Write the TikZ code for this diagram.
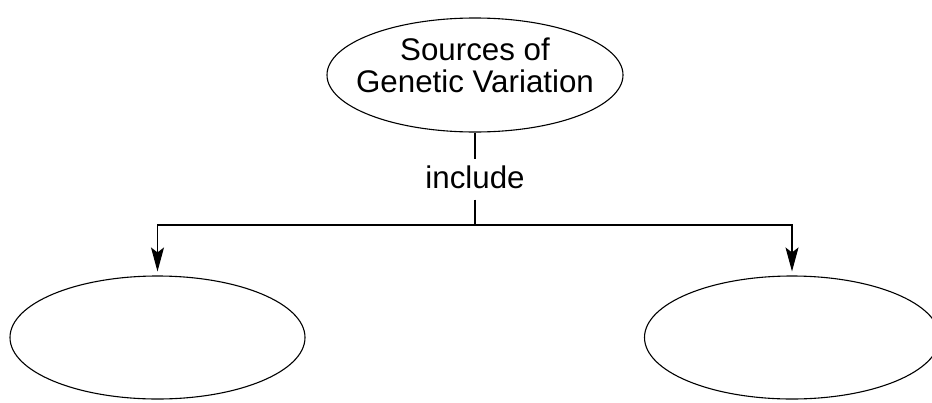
\documentclass[tikz,border=0pt]{standalone}
\usepackage{fontspec}
\setmainfont{Liberation Sans}
\usetikzlibrary{shapes.geometric,arrows.meta}
\begin{document}
\begin{tikzpicture}[x=1pt,y=-1pt,
  oval/.style={draw, ellipse, line width=1.1pt, inner sep=0pt},
  lbl/.style={font=\fontsize{31.3}{32}\selectfont, align=center},
  conn/.style={line width=1.1pt},
  arr/.style={line width=1.1pt, -{Stealth[length=24pt,width=13pt,inset=5pt]}, shorten >=4pt}]
\useasboundingbox (0,0) rectangle (932,402);
\fill[white] (0,0) rectangle (932,402);
\node[oval, minimum width=296pt, minimum height=114pt,
  label={[lbl, yshift=10pt]center:Sources of\\Genetic Variation}] (top) at (475,75) {};
\node[lbl, inner sep=0pt] (inc) at (475,177) {include};
\coordinate (j) at (475,225);
\node[oval, minimum width=295pt, minimum height=123pt] (left) at (157.5,337.5) {};
\node[oval, minimum width=295pt, minimum height=123pt] (right) at (792,337.5) {};
\draw[conn] (top.south) -- ([yshift=6pt]inc.north);
\draw[conn] ([yshift=-11pt]inc.south) -- (j);
\draw[arr] (j) -| (left.north);
\draw[arr] (j) -| (right.north);
\end{tikzpicture}
\end{document}
